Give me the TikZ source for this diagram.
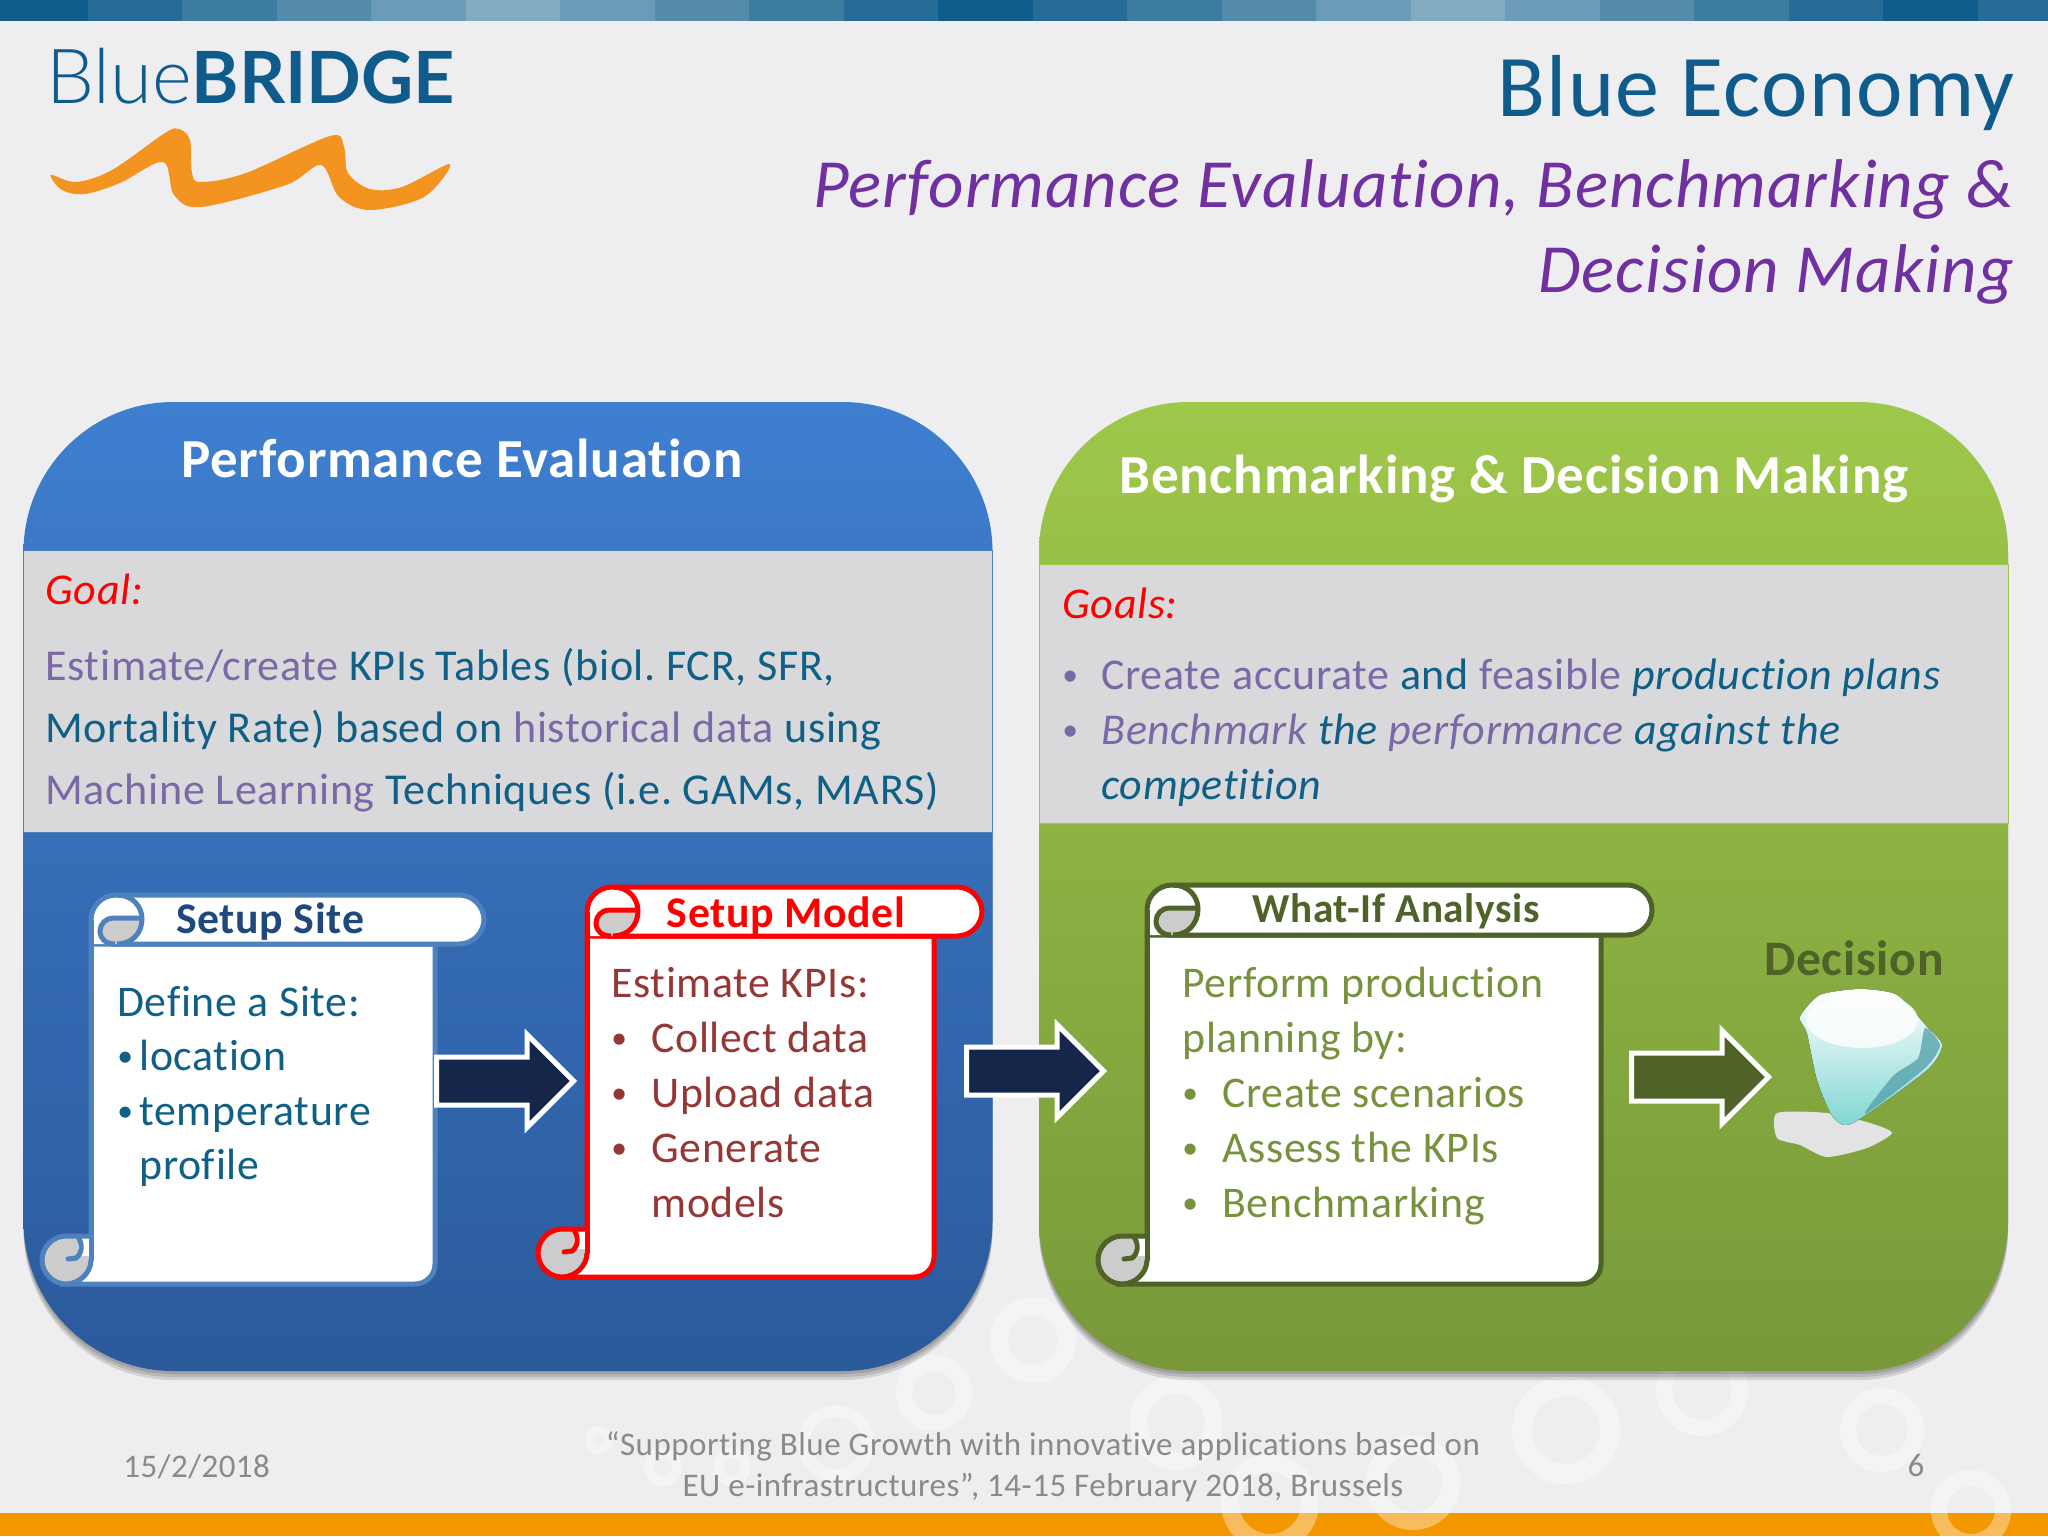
\documentclass[tikz,border=0pt]{standalone}
\usepackage{fontspec}
\setmainfont[Ligatures=NoCommon, LetterSpace=1.5]{Carlito}
\newfontfamily\logolight{Lato Light}
\newfontfamily\logobold{Lato}
\usepackage{xcolor}
\usetikzlibrary{positioning, shapes.arrows}
\frenchspacing

\definecolor{pagebg}{HTML}{EEEEF0}
\definecolor{bardark}{HTML}{0F5C8C}
\definecolor{barlight}{HTML}{82ABC0}
\definecolor{teal}{HTML}{0F5F87}
\definecolor{softpurple}{HTML}{7B68A6}
\definecolor{titlepurple}{HTML}{7030A0}
\definecolor{bandgray}{HTML}{D9D9DB}
\definecolor{footgray}{HTML}{8A8A8C}
\definecolor{navy}{HTML}{14274A}
\definecolor{olive}{HTML}{4F6228}
\definecolor{leaf}{HTML}{76923C}
\definecolor{brick}{HTML}{953735}
\definecolor{steel}{HTML}{4F81BD}
\definecolor{deepblue}{HTML}{1F497D}
\definecolor{bluetop}{HTML}{3F7FD0}
\definecolor{bluebottom}{HTML}{2B5A9B}
\definecolor{greentop}{HTML}{9EC84A}
\definecolor{greenbottom}{HTML}{78983A}
\definecolor{stripe}{HTML}{F39800}
\definecolor{wave}{HTML}{F39420}
\definecolor{gemteal}{HTML}{7FD6D2}
\definecolor{gemdark}{HTML}{4A9AA4}

\tikzset{
  panel/.style={rectangle, rounded corners=75pt, minimum width=484.5pt, minimum height=484.5pt, inner sep=0pt},
  panelshade/.style={panel, fill=black, opacity=.12},
  band/.style={rectangle, fill=bandgray, line width=.5pt, minimum width=484.5pt, inner sep=0pt},
  ring/.style={draw=white, opacity=.36},
  paneltitle/.style={anchor=base, inner sep=0pt, text=white, font=\fontsize{27.5}{30}\bfseries\selectfont},
  bandtext/.style={anchor=north west, inner sep=0pt, align=left, text=teal},
  scrolltitle/.style={anchor=base, inner sep=0pt, font=\fontsize{21.9}{26}\bfseries\selectfont},
  scrolltext/.style={anchor=north west, inner sep=0pt, align=left, font=\fontsize{21.9}{27.5}\selectfont},
  blockarrow/.style={single arrow, draw=white, line width=2.5pt, minimum height=68.5pt, minimum width=44pt,
    single arrow head extend=11.25pt, inner sep=0pt, inner ysep=10.75pt},
  footer/.style={anchor=base, inner sep=0pt, text=footgray, font=\fontsize{16.5}{20.5}\selectfont}
}

% left, top, banner bottom, banner right, body right, bottom, colour
\newcommand{\scrollbox}[7]{
  \draw[#7, line width=2.5pt, fill=white] (#1,#3) -- (#5,#3) [rounded corners=10pt] -- (#5,#6) [sharp corners] -- ({#1-25},#6) -- (#1,{#6-24}) -- cycle;
  \draw[#7, line width=2.5pt, fill=white, rounded corners=12.5pt] ({#1+20},#3) -- (#4,#3) -- (#4,#2) -- (#1,#2) [sharp corners] -- (#1,#3);
  \fill[gray!40] ({#1+49},{#2+23}) -- ({#1+22},{#2+23}) .. controls ({#1+15},{#2+23}) and ({#1+9},{#2+29}) .. ({#1+9},{#2+36}) .. controls ({#1+9},{#2+44}) and ({#1+15},#3) .. ({#1+24},#3) -- ({#1+30},#3) .. controls ({#1+42},#3) and ({#1+49},{#2+36}) .. ({#1+49},{#2+23});
  \draw[#7, line width=2.5pt] ({#1+26},#2) .. controls ({#1+41},#2) and ({#1+51},{#2+11}) .. ({#1+51},{#2+24}) .. controls ({#1+51},{#2+38}) and ({#1+41},#3) .. ({#1+26},#3);
  \draw[#7, line width=2.5pt] ({#1+50},{#2+23}) -- ({#1+22},{#2+23}) .. controls ({#1+15},{#2+23}) and ({#1+9},{#2+29}) .. ({#1+9},{#2+36}) .. controls ({#1+9},{#2+44}) and ({#1+15},#3) .. ({#1+24},#3);
  \fill[gray!40] (#1,{#6-48}) -- ({#1-25},{#6-48}) .. controls ({#1-38},{#6-48}) and ({#1-49},{#6-37}) .. ({#1-49},{#6-24}) .. controls ({#1-49},{#6-11}) and ({#1-38},#6) .. ({#1-25},#6) .. controls ({#1-12},#6) and (#1,{#6-11}) .. (#1,{#6-24}) -- cycle;
  \fill[white] ({#1-13},{#6-46}) rectangle (#1,{#6-28});
  \draw[#7, line width=2.5pt] (#1,{#6-48}) -- ({#1-25},{#6-48}) .. controls ({#1-38},{#6-48}) and ({#1-49},{#6-37}) .. ({#1-49},{#6-24}) .. controls ({#1-49},{#6-11}) and ({#1-38},#6) .. ({#1-25},#6) .. controls ({#1-12},#6) and (#1,{#6-11}) .. (#1,{#6-24});
  \draw[#7, line width=2.5pt, line cap=round] ({#1-23},{#6-25}) -- ({#1-15},{#6-26}) .. controls ({#1-9},{#6-30}) and ({#1-8},{#6-40}) .. ({#1-13},{#6-47});
  \draw[#7, line width=2.5pt] (#1,{#2+25}) -- (#1,{#6-24});
}
\newcommand{\pur}[1]{\textcolor{softpurple}{#1}}
\newcommand{\blt}[1]{\makebox[#1][l]{\raisebox{.09em}{\scalebox{.72}{\textbullet}}}}

\begin{document}
\begin{tikzpicture}[x=0.5pt, y=-0.5pt]
  \useasboundingbox (0,0) rectangle (2048,1536);
  \fill[pagebg] (0,0) rectangle (2048,1536);

  % header and footer strips
  \foreach \i in {0,...,21} {
    \pgfmathsetmacro\lt{(5-abs(5-mod(\i,10)))*20}
    \fill[barlight!\lt!bardark] ({-7+94.5*\i},0) rectangle ({87.5+94.5*\i},21);
  }
  \fill[stripe] (0,1513) rectangle (2048,1536);
  \foreach \x/\y/\r/\w in {1033/1340/17/9, 934/1393/15/8, 836/1443/16/6, 1176/1423/19/9, 1566/1430/22/10, 1702/1390/19/8,
      1882/1430/17/8, 1413/1483/19/9, 1270/1503/20/9, 1971/1510/16/8, 599/1440/5/4, 663/1467/7/5, 732/1467/7/5}
    \draw[ring, line width=\w pt] (\x,\y) circle[radius=\r pt];

  % logo
  \node[anchor=base west, inner sep=0pt, text=bardark] (logo) at (46,104) {{\logolight\fontsize{38}{40}\selectfont Blue}{\logobold\bfseries\fontsize{36}{40}\selectfont BRIDGE}};
  \fill[wave] plot[smooth cycle, tension=.55] coordinates {(51,175) (76,182) (112,170) (165,133) (179,129) (190,140) (192,173) (201,182)
      (246,173) (330,136) (344,147) (348,173) (370,189) (402,187) (450,164) (424,197) (370,210) (339,197) (321,165) (286,185)
      (201,207) (174,195) (163,162) (120,183) (85,194) (62,190)};

  % slide title
  \node[anchor=base east, inner sep=0pt, text=bardark, font=\fontsize{44}{50}\selectfont] (title) at (2015,117) {Blue Economy};
  \node[anchor=base east, inner sep=0pt, text=titlepurple, font=\fontsize{34.5}{42}\itshape\selectfont] (sub1) at (2014,207) {Performance Evaluation, Benchmarking \&};
  \node[anchor=base east, inner sep=0pt, text=titlepurple, font=\fontsize{34.5}{42}\itshape\selectfont] (sub2) at (2014,292) {Decision Making};

  % panels
  \foreach \d in {3,6,9} {
    \node[panelshade] at (508,886.5+\d) {};
    \node[panelshade] at (1523.5,886.5+\d) {};
  }
  \node[panel, top color=bluetop, bottom color=bluebottom] (perf) at (508,886.5) {};
  \node[panel, top color=greentop, bottom color=greenbottom] (bench) at (1523.5,886.5) {};
  \node[band, draw=steel, minimum height=141pt] (perfband) at (508,691) {};
  \node[band, draw=greentop, minimum height=129.5pt] (benchband) at (1523.5,693.5) {};

  \node[paneltitle] (perftitle) at (462,477) {Performance Evaluation};
  \node[paneltitle] (benchtitle) at (1514,493) {Benchmarking \& Decision Making};

  \node[bandtext, text=red, font=\fontsize{22}{31}\itshape\selectfont, anchor=base west] (goal) at (45,604) {Goal:};
  \node[bandtext, font=\fontsize{22.05}{31.2}\selectfont] (goaltext) at (45,636) {\strut\pur{Estimate/create} KPIs Tables (biol. FCR, SFR,\\
    Mortality Rate) based on \pur{historical data} using\\
    \pur{Machine Learning} Techniques (i.e. GAMs, MARS)};
  \node[bandtext, text=red, font=\fontsize{22}{31}\itshape\selectfont, anchor=base west] (goals) at (1062,618) {Goals:};
  \node[bandtext, font=\fontsize{22}{27.5}\selectfont] (goalstext) at (1062,650.5) {\strut\pur{\blt{19.5pt}Create accurate} and \pur{feasible} \textit{production plans}\\
    \pur{\blt{19.5pt}}\textit{\pur{Benchmark} the \pur{performance} against the}\\
    \hspace*{19.5pt}\textit{competition}};

  % scrolls
  \scrollbox{91}{895}{944}{484}{435}{1284}{steel}
  \scrollbox{587}{887}{936}{982}{934}{1277}{red}
  \scrollbox{1147}{885}{935}{1652}{1601}{1284}{olive}

  \node[scrolltitle, text=deepblue] (site) at (270,933) {Setup Site};
  \node[scrolltitle, text=red] (model) at (786,927) {Setup Model};
  \node[scrolltitle, text=olive, font=\fontsize{20.6}{26}\bfseries\selectfont] (whatif) at (1396,922) {What-If Analysis};
  \node[scrolltitle, text=olive, font=\fontsize{24.8}{26}\bfseries\selectfont] (decision) at (1854,975) {Decision};

  \node[scrolltext, text=teal, font=\fontsize{21.9}{27.2}\selectfont] (sitetext) at (117,978) {\strut Define a Site:\\
    \blt{11pt}location\\ \blt{11pt}temperature\\ \hspace*{11pt}profile};
  \node[scrolltext, text=brick] (modeltext) at (611,958.5) {\strut Estimate KPIs:\\
    \blt{20pt}Collect data\\ \blt{20pt}Upload data\\ \blt{20pt}Generate\\ \hspace*{20pt}models};
  \node[scrolltext, text=leaf] (whatiftext) at (1182,958.5) {\strut Perform production\\ planning by:\\
    \blt{20pt}Create scenarios\\ \blt{20pt}Assess the KPIs\\ \blt{20pt}Benchmarking};

  % block arrows
  \node[blockarrow, fill=navy] (toModel) at (493,1081) {};
  \node[blockarrow, fill=navy] (toWhatif) at (1023,1071) {};
  \node[blockarrow, fill=olive] (toDecision) at (1688,1077) {};

  % gem
  \fill[gray!22!white] plot[smooth cycle, tension=.4] coordinates {(1777,1113) (1827,1113) (1870,1123) (1892,1133) (1867,1148) (1827,1157) (1800,1145) (1777,1138)};
  \fill[top color=white, bottom color=gemteal] plot[smooth cycle, tension=.4] coordinates {(1800,1017) (1820,995) (1860,989) (1897,995)
      (1927,1027) (1942,1045) (1927,1070) (1853,1123) (1833,1117) (1817,1080) (1807,1033)};
  \fill[gemdark, opacity=.7] plot[smooth cycle, tension=.4] coordinates {(1925,1028) (1940,1045) (1925,1068) (1865,1114) (1893,1076) (1918,1058)};
  \fill[white, opacity=.8] (1862,1020) ellipse[x radius=28pt, y radius=14pt];

  % footer
  \node[footer, anchor=base west] (date) at (123,1477) {15/2/2018};
  \node[footer] (foot1) at (1043,1455) {“Supporting Blue Growth with innovative applications based on};
  \node[footer] (foot2) at (1043,1496) {EU e-infrastructures”, 14-15 February 2018, Brussels};
  \node[footer] (page) at (1916,1476) {6};
\end{tikzpicture}
\end{document}
